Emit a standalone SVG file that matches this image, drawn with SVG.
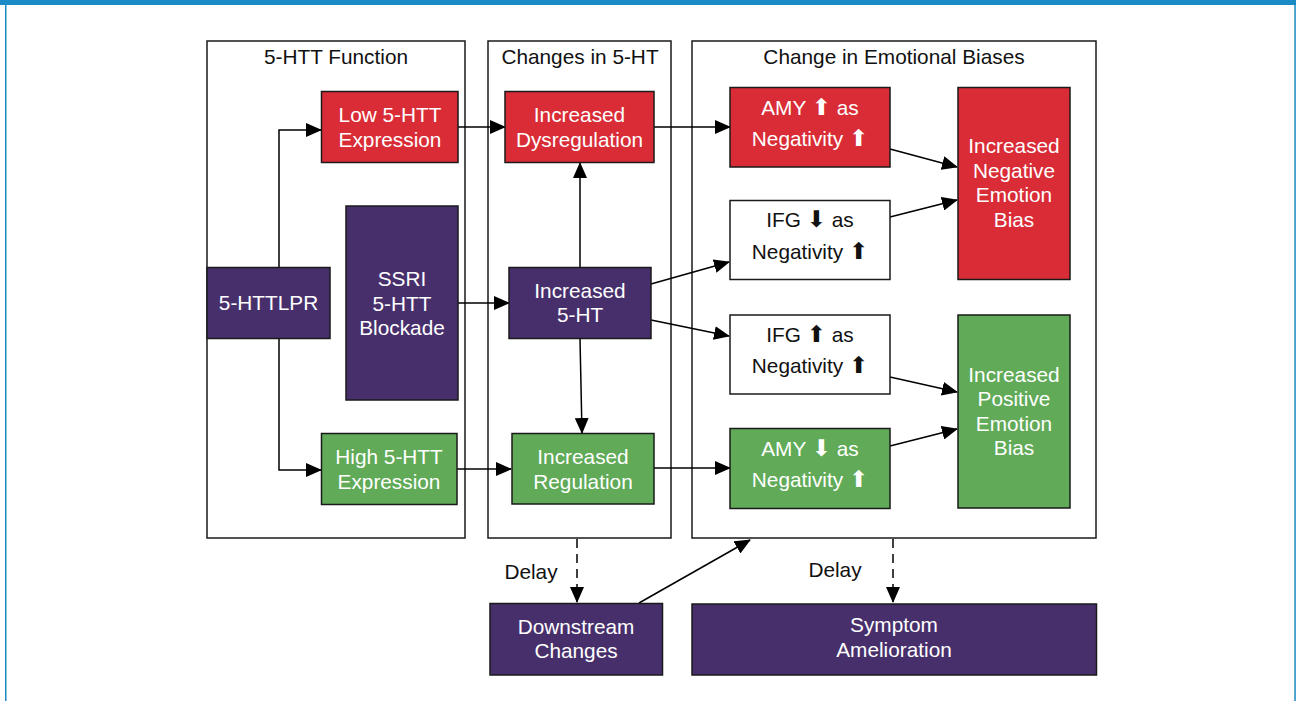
<svg xmlns="http://www.w3.org/2000/svg" width="1296" height="701" viewBox="0 0 1296 701">
<style>
text{font-family:"Liberation Sans","DejaVu Sans",Arial,sans-serif;font-size:20.8px;text-anchor:middle}
.ar{font-family:"DejaVu Sans",sans-serif;font-size:23px}
.w{fill:#ffffff}
.k{fill:#111111}
.frame{fill:none;stroke:#1a1a1a;stroke-width:1.5}
.red{fill:#d92c36;stroke:#1a1a1a;stroke-width:1.5}
.grn{fill:#60aa58;stroke:#1a1a1a;stroke-width:1.5}
.pur{fill:#472f6c;stroke:#1a1a1a;stroke-width:1.5}
.wht{fill:#ffffff;stroke:#1a1a1a;stroke-width:1.5}
.c{fill:none;stroke:#000;stroke-width:1.5;marker-end:url(#ah)}
.d{stroke-dasharray:9 6}
</style>
<defs>
<marker id="ah" markerUnits="userSpaceOnUse" markerWidth="16" markerHeight="14" viewBox="0 0 16 14" refX="15" refY="7" orient="auto">
<path d="M0,0 L16,7 L0,14 z" fill="#000"/>
</marker>
</defs>
<rect x="0" y="0" width="1296" height="701" fill="#ffffff"/>
<rect x="0" y="0" width="1296" height="5" fill="#1b8bc5"/>
<rect x="5" y="0" width="1.5" height="701" fill="#1b8bc5"/>
<rect x="1294.3" y="0" width="1.5" height="701" fill="#1b8bc5"/>

<g id="panel-function">
<rect class="frame" x="207" y="41" width="258" height="497"/>
<text class="k" x="336" y="64">5-HTT Function</text>
</g>
<g id="panel-5ht">
<rect class="frame" x="488" y="41" width="183" height="497"/>
<text class="k" x="580" y="64">Changes in 5-HT</text>
</g>
<g id="panel-biases">
<rect class="frame" x="692" y="41" width="404" height="497"/>
<text class="k" x="894" y="64">Change in Emotional Biases</text>
</g>

<g id="connectors">
<polyline class="c" points="279,268 279,130 321,130"/>
<polyline class="c" points="279,339 279,470 321,470"/>
<line class="c" x1="458" y1="127" x2="505" y2="127"/>
<line class="c" x1="457" y1="469" x2="511" y2="469"/>
<line class="c" x1="458" y1="303" x2="509" y2="303"/>
<line class="c" x1="580" y1="267" x2="580" y2="163"/>
<line class="c" x1="580" y1="339" x2="582" y2="433"/>
<line class="c" x1="654" y1="127" x2="730" y2="127"/>
<line class="c" x1="651" y1="284" x2="729" y2="262"/>
<line class="c" x1="651" y1="320" x2="729" y2="336"/>
<line class="c" x1="654" y1="468" x2="730" y2="468"/>
<line class="c" x1="890" y1="149" x2="957" y2="167"/>
<line class="c" x1="890" y1="217" x2="957" y2="200"/>
<line class="c" x1="890" y1="377" x2="957" y2="392"/>
<line class="c" x1="890" y1="446" x2="957" y2="429"/>
<line class="c d" x1="577" y1="539" x2="577" y2="602"/>
<line class="c d" x1="893" y1="539" x2="893" y2="602"/>
<line class="c" x1="639" y1="603" x2="750" y2="540"/>
<text class="k" x="531" y="579">Delay</text>
<text class="k" x="835" y="577">Delay</text>
</g>

<g id="n-low">
<rect class="red" x="321.5" y="91.5" width="136.5" height="71"/>
<text class="w" x="390" y="121.5">Low 5-HTT</text>
<text class="w" x="390" y="146.5">Expression</text>
</g>
<g id="n-high">
<rect class="grn" x="321.5" y="433.5" width="135.5" height="71"/>
<text class="w" x="389" y="463.5">High 5-HTT</text>
<text class="w" x="389" y="488.5">Expression</text>
</g>
<g id="n-httlpr">
<rect class="pur" x="207" y="267.5" width="123" height="71"/>
<text class="w" x="268.5" y="310">5-HTTLPR</text>
</g>
<g id="n-ssri">
<rect class="pur" x="346" y="206" width="112" height="194"/>
<text class="w" x="402" y="286">SSRI</text>
<text class="w" x="402" y="310.5">5-HTT</text>
<text class="w" x="402" y="335">Blockade</text>
</g>
<g id="n-dysreg">
<rect class="red" x="505" y="91.5" width="149" height="71"/>
<text class="w" x="579.5" y="121.5">Increased</text>
<text class="w" x="579.5" y="146.5">Dysregulation</text>
</g>
<g id="n-5ht">
<rect class="pur" x="509" y="267.5" width="142" height="71"/>
<text class="w" x="580" y="297.5">Increased</text>
<text class="w" x="580" y="322.3">5-HT</text>
</g>
<g id="n-reg">
<rect class="grn" x="512" y="433.5" width="142" height="70.5"/>
<text class="w" x="583" y="463.5">Increased</text>
<text class="w" x="583" y="488.5">Regulation</text>
</g>
<g id="n-amy-up">
<rect class="red" x="730" y="87.5" width="160" height="79.5"/>
<text class="w" x="810" y="115">AMY <tspan class="ar">⬆</tspan> as</text>
<text class="w" x="810" y="146">Negativity <tspan class="ar">⬆</tspan></text>
</g>
<g id="n-ifg-down">
<rect class="wht" x="730" y="200.5" width="160" height="79"/>
<text class="k" x="810" y="227">IFG <tspan class="ar">⬇</tspan> as</text>
<text class="k" x="810" y="258.5">Negativity <tspan class="ar">⬆</tspan></text>
</g>
<g id="n-ifg-up">
<rect class="wht" x="730" y="315" width="160" height="79"/>
<text class="k" x="810" y="341.5">IFG <tspan class="ar">⬆</tspan> as</text>
<text class="k" x="810" y="373">Negativity <tspan class="ar">⬆</tspan></text>
</g>
<g id="n-amy-down">
<rect class="grn" x="730" y="428.5" width="160" height="80"/>
<text class="w" x="810" y="455.5">AMY <tspan class="ar">⬇</tspan> as</text>
<text class="w" x="810" y="487">Negativity <tspan class="ar">⬆</tspan></text>
</g>
<g id="n-neg-bias">
<rect class="red" x="958" y="87.5" width="112" height="192"/>
<text class="w" x="1014" y="153.3">Increased</text>
<text class="w" x="1014" y="177.7">Negative</text>
<text class="w" x="1014" y="202.3">Emotion</text>
<text class="w" x="1014" y="226.7">Bias</text>
</g>
<g id="n-pos-bias">
<rect class="grn" x="958" y="315" width="112" height="193"/>
<text class="w" x="1014" y="381.5">Increased</text>
<text class="w" x="1014" y="406">Positive</text>
<text class="w" x="1014" y="430.5">Emotion</text>
<text class="w" x="1014" y="455">Bias</text>
</g>
<g id="n-downstream">
<rect class="pur" x="490" y="603.5" width="172.5" height="71.5"/>
<text class="w" x="576" y="634">Downstream</text>
<text class="w" x="576" y="658.3">Changes</text>
</g>
<g id="n-symptom">
<rect class="pur" x="692" y="604" width="404.5" height="71"/>
<text class="w" x="894" y="632">Symptom</text>
<text class="w" x="894" y="657">Amelioration</text>
</g>
</svg>
